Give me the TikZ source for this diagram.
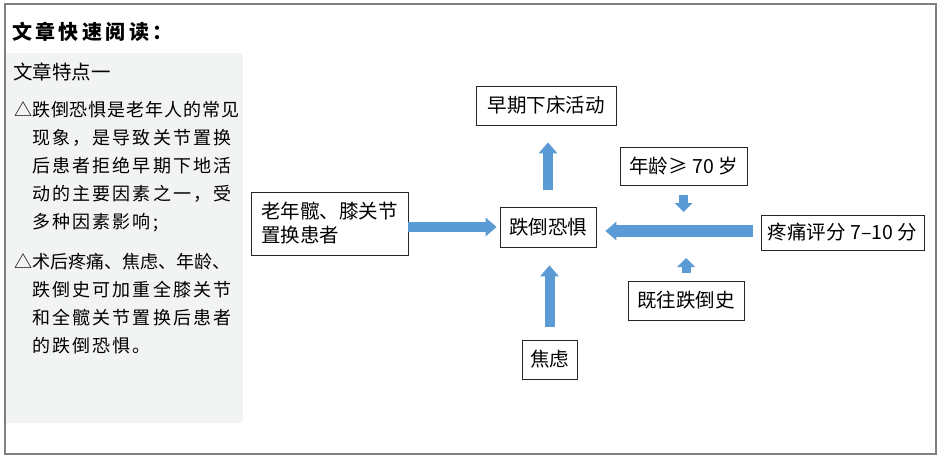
\documentclass[tikz,border=0pt]{standalone}
\usepackage{fontspec}
\usetikzlibrary{arrows.meta}
\newfontfamily\cjk{Noto Sans CJK SC}
\newfontfamily\cjktitle[LetterSpace=17]{Noto Sans CJK SC}
\newfontfamily\cjkbody[LetterSpace=12]{Noto Sans CJK SC}
\definecolor{framegray}{RGB}{128,128,128}
\definecolor{panelgray}{RGB}{242,243,243}
\definecolor{arrowblue}{RGB}{91,155,213}
\tikzset{
  box/.style={draw=black!85, line width=0.9pt, fill=white, inner sep=0pt,
    font=\cjk\fontsize{19.5}{24}\selectfont},
  body/.style={inner sep=0pt, align=left, font=\cjkbody\fontsize{18}{28}\selectfont},
  fatarrow/.style={draw=arrowblue, line width=10pt,
    -{Triangle[length=11pt,width=19pt,line width=0pt]}},
  thinarrow/.style={draw=arrowblue, line width=9pt,
    -{Triangle[length=9pt,width=18pt,line width=0pt]}}
}
\begin{document}
\begin{tikzpicture}[x=1pt, y=-1pt]
                \useasboundingbox (0,0) rectangle (942,460);
                \fill[panelgray] (6,53) rectangle (243,423);
                \draw[framegray, line width=1.5pt] (5,4) rectangle (936,454);

                \node[anchor=west, inner sep=0pt, font=\cjktitle\bfseries\fontsize{20}{22}\selectfont] (title) at (12,32) {文章快速阅读：};
                \node[anchor=west, inner sep=0pt, font=\cjk\fontsize{19.5}{22}\selectfont] (feat) at (13,72) {文章特点一};
                \node[body, anchor=north west] (para1) at (14,101) {\hphantom{△}\llap{△}{\addfontfeature{LetterSpace=5}跌倒恐惧是老年人的常见}\\
                    \hphantom{△}现象，是导致关节置换\\
                    \hphantom{△}后患者拒绝早期下地活\\
                    \hphantom{△}动的主要因素之一，受\\
                    \hphantom{△}多种因素影响;};
                \node[body, anchor=north west] (para2) at (14,253) {\hphantom{△}\llap{△}{\cjk 术后疼痛、焦虑、年龄、}\\
                    \hphantom{△}跌倒史可加重全膝关节\\
                    \hphantom{△}和全髋关节置换后患者\\
                    \hphantom{△}的跌倒恐惧。};

                \node[box, minimum width=157pt, minimum height=63pt, text width=137pt, align=left] (pat) at (329.5,223.5) {老年髋、膝关节\\置换患者};
                \node[box, minimum width=96pt, minimum height=40pt] (fall) at (548,227) {跌倒恐惧};
                \node[box, minimum width=140pt, minimum height=39pt] (early) at (546,105.5) {早期下床活动};
                \node[box, minimum width=127pt, minimum height=38pt] (age) at (683.5,166) {年龄≥ 70 岁};
                \node[box, minimum width=163pt, minimum height=35pt] (pain) at (842.5,232.5) {疼痛评分 7–10 分};
                \node[box, minimum width=116pt, minimum height=39pt] (hist) at (686,300.5) {既往跌倒史};
                \node[box, minimum width=55pt, minimum height=39pt] (anx) at (549.5,359.5) {焦虑};
                \coordinate (hit) at (684,231);

                \draw[fatarrow, shorten >=3pt] (pat.east |- fall.west) -- (fall.west);
                \draw[fatarrow, shorten <=17pt, shorten >=17pt] (fall.north) -- (fall.north |- early.south);
                \draw[fatarrow, shorten <=13pt, shorten >=18pt] (anx.north) -- (anx.north |- fall.south);
                \draw[fatarrow, line width=12pt, shorten <=8pt, shorten >=9pt] (pain.west |- hit) -- (hit -| fall.east);
                \draw[thinarrow, shorten <=10pt, shorten >=19pt] (age.south) -- (age.south |- hit);
                \draw[thinarrow, shorten <=8pt, shorten >=27pt] (hist.north) -- (hist.north |- hit);
            \end{tikzpicture}
\end{document}
